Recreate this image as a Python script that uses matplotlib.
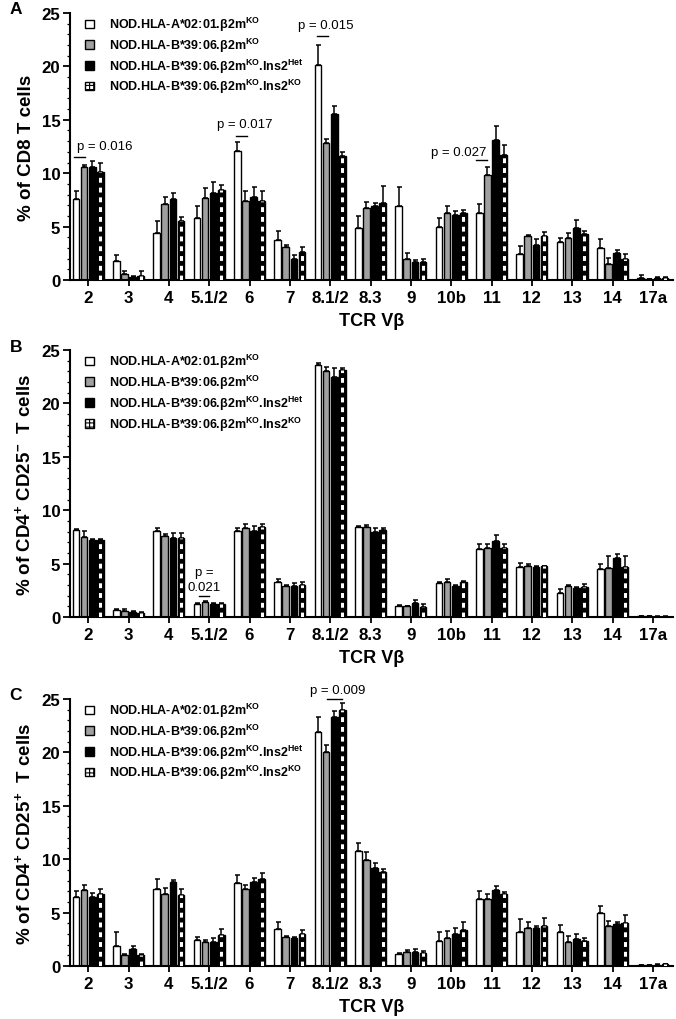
import matplotlib
matplotlib.use('Agg')
import matplotlib.pyplot as plt
import numpy as np
from matplotlib.patches import Patch

plt.rcParams['font.family'] = ['Liberation Sans', 'DejaVu Sans']
plt.rcParams['mathtext.fontset'] = 'custom'
plt.rcParams['mathtext.rm'] = 'Liberation Sans'
plt.rcParams['mathtext.bf'] = 'Liberation Sans:bold'
plt.rcParams['hatch.linewidth'] = 0.8

# Data
categories = ['2', '3', '4', '5.1/2', '6', '7', '8.1/2', '8.3', '9', '10b', '11', '12', '13', '14', '17a']
groups = [r'NOD.HLA-A*02:01.β2m$^{\mathbf{KO}}$',
          r'NOD.HLA-B*39:06.β2m$^{\mathbf{KO}}$',
          r'NOD.HLA-B*39:06.β2m$^{\mathbf{KO}}$.Ins2$^{\mathbf{Het}}$',
          r'NOD.HLA-B*39:06.β2m$^{\mathbf{KO}}$.Ins2$^{\mathbf{KO}}$']

# panel A: CD8
a_white = [7.6, 1.8, 4.4, 5.8, 12.1, 3.7, 20.1, 4.9, 6.9, 5.0, 6.3, 2.4, 3.6, 3.0, 0.2]
a_white_sem = [0.7, 0.5, 1.1, 1.1, 0.8, 0.9, 1.9, 1.1, 1.8, 0.8, 0.8, 0.8, 0.3, 0.8, 0.25]
a_gray = [10.6, 0.6, 7.1, 7.7, 7.4, 3.1, 12.8, 6.7, 2.0, 6.3, 9.8, 4.1, 3.9, 1.5, 0.05]
a_gray_sem = [0.2, 0.2, 0.7, 0.9, 0.9, 0.2, 0.4, 0.6, 0.5, 0.6, 0.8, 0.1, 0.5, 0.6, 0.05]
a_black = [10.6, 0.3, 7.6, 8.1, 7.8, 2.0, 15.5, 6.9, 1.7, 6.1, 13.1, 3.3, 4.9, 2.5, 0.2]
a_black_sem = [0.5, 0.05, 0.5, 1.1, 0.9, 0.3, 0.8, 0.3, 0.2, 0.4, 1.3, 0.5, 0.7, 0.3, 0.1]
a_check = [10.1, 0.4, 5.5, 8.4, 7.4, 2.6, 11.6, 7.2, 1.7, 6.3, 11.7, 4.1, 4.3, 2.0, 0.15]
a_check_sem = [0.9, 0.4, 0.4, 0.5, 0.9, 0.5, 0.4, 1.6, 0.3, 0.3, 0.9, 0.4, 0.3, 0.4, 0.1]

# panel B: CD4+ CD25-
b_white = [8.15, 0.65, 8.1, 1.2, 8.1, 3.3, 23.6, 8.45, 1.05, 3.15, 6.4, 4.7, 2.3, 4.55, 0.08]
b_white_sem = [0.1, 0.15, 0.2, 0.1, 0.2, 0.3, 0.2, 0.1, 0.05, 0.1, 0.4, 0.35, 0.35, 0.45, 0.02]
b_gray = [7.5, 0.6, 7.6, 1.4, 8.3, 2.9, 23.0, 8.45, 1.0, 3.3, 6.45, 4.8, 2.9, 4.6, 0.08]
b_gray_sem = [0.6, 0.2, 0.2, 0.1, 0.4, 0.1, 0.4, 0.15, 0.05, 0.3, 0.4, 0.15, 0.15, 1.1, 0.02]
b_black = [7.25, 0.5, 7.45, 1.25, 8.1, 2.9, 22.45, 8.0, 1.3, 2.95, 7.1, 4.7, 2.75, 5.5, 0.05]
b_black_sem = [0.05, 0.1, 0.45, 0.05, 0.4, 0.3, 0.85, 0.35, 0.3, 0.05, 0.55, 0.05, 0.05, 0.4, 0.02]
b_check = [7.2, 0.4, 7.45, 1.2, 8.45, 3.0, 23.15, 8.15, 0.95, 3.3, 6.45, 4.75, 2.8, 4.7, 0.05]
b_check_sem = [0.1, 0.1, 0.45, 0.1, 0.25, 0.3, 0.15, 0.15, 0.25, 0.1, 0.4, 0.05, 0.3, 1.05, 0.02]

# panel C: CD4+ CD25+
c_white = [6.5, 1.9, 7.2, 2.45, 7.75, 3.45, 21.95, 10.75, 1.1, 2.35, 6.25, 3.15, 3.15, 4.95, 0.08]
c_white_sem = [0.5, 1.25, 0.9, 0.25, 0.8, 0.65, 1.35, 0.75, 0.1, 0.85, 0.75, 1.25, 0.7, 0.7, 0.02]
c_gray = [7.15, 1.0, 6.75, 2.2, 7.2, 2.7, 20.05, 9.95, 1.3, 2.6, 6.25, 3.55, 2.2, 3.7, 0.08]
c_gray_sem = [0.45, 0.1, 0.55, 0.2, 0.4, 0.1, 0.65, 0.75, 0.2, 0.65, 0.5, 0.6, 0.6, 0.5, 0.02]
c_black = [6.45, 1.6, 7.85, 2.2, 7.9, 2.65, 23.3, 9.2, 1.35, 2.95, 7.1, 3.6, 2.5, 3.95, 0.12]
c_black_sem = [0.4, 0.3, 0.2, 0.4, 0.35, 0.1, 0.55, 0.4, 0.25, 0.65, 0.4, 0.15, 0.45, 0.2, 0.03]
c_check = [6.7, 1.0, 6.6, 2.9, 8.1, 2.95, 23.95, 8.8, 1.2, 3.4, 6.7, 3.7, 2.3, 4.0, 0.18]
c_check_sem = [0.55, 0.1, 0.6, 0.6, 0.6, 0.4, 0.65, 0.3, 0.2, 0.7, 0.2, 0.75, 0.35, 0.8, 0.03]

panels = [
    ('A', '% of CD8 T cells',
     [a_white, a_gray, a_black, a_check], [a_white_sem, a_gray_sem, a_black_sem, a_check_sem]),
    ('B', r'% of CD4$^{\mathbf{+}}$ CD25$^{\mathbf{-}}$  T cells',
     [b_white, b_gray, b_black, b_check], [b_white_sem, b_gray_sem, b_black_sem, b_check_sem]),
    ('C', r'% of CD4$^{\mathbf{+}}$ CD25$^{\mathbf{+}}$  T cells',
     [c_white, c_gray, c_black, c_check], [c_white_sem, c_gray_sem, c_black_sem, c_check_sem]),
]

# p-value annotations: (panel, category index, line from offset, line to offset, line y, text, text x offset, text y, ha)
pvals = [
    (0, 0, -0.34, -0.08, 11.5, 'p = 0.016', -0.27, 12.0, 'left'),
    (0, 4, -0.34, -0.06, 13.5, 'p = 0.017', -0.8, 14.0, 'left'),
    (0, 6, -0.32, -0.06, 22.8, 'p = 0.015', -0.8, 23.3, 'left'),
    (0, 10, -0.38, -0.12, 11.2, 'p = 0.027', -0.12, 11.4, 'right'),
    (1, 3, -0.25, 0.0, 2.0, 'p =\n0.021', -0.12, 2.3, 'center'),
    (2, 6, -0.08, 0.3, 25.0, 'p = 0.009', -0.5, 25.3, 'left'),
]

x = np.arange(len(categories))
offsets = [-0.3, -0.1, 0.1, 0.3]
width = 0.165
faces = ['white', '#a0a0a0', 'black', 'black']

fig = plt.figure(figsize=(6.76, 10.2), dpi=100)
bottoms = [0.7245, 0.394, 0.052]
axes = []
for k, (letter, ylab, means, sems) in enumerate(panels):
    ax = fig.add_axes([0.1036, bottoms[k], 0.892, 0.2618])
    axes.append(ax)
    for g in range(4):
        xs = x + offsets[g]
        ax.bar(xs, means[g], width, color=faces[g], edgecolor='black', linewidth=1.0, zorder=2)
        if g == 3:
            ax.vlines(xs, 0, means[g], colors='white', linewidth=2.2,
                      linestyles=(0, (1.6, 1.6)), zorder=3)
        ax.errorbar(xs, means[g], yerr=[np.zeros(len(x)), sems[g]], fmt='none',
                    ecolor='black', elinewidth=1.1, capsize=1.8, capthick=1.1, zorder=1)
    ax.set_xlim(-0.45, 14.5)
    ax.set_ylim(0, 25)
    ax.set_yticks([0, 5, 10, 15, 20, 25])
    ax.set_yticks(np.arange(0, 26, 1), minor=True)
    ax.set_xticks(x)
    ax.set_xticklabels(categories, fontsize=12.2, fontweight='bold')
    for lab in ax.get_yticklabels():
        lab.set_fontsize(12.2)
        lab.set_fontweight('bold')
    ax.tick_params(axis='y', which='major', length=5, width=1.3, pad=2)
    ax.tick_params(axis='y', which='minor', length=2.5, width=0.9)
    ax.tick_params(axis='x', which='major', length=4, width=1.3, pad=3)
    for s in ['top', 'right']:
        ax.spines[s].set_visible(False)
    for s in ['left', 'bottom']:
        ax.spines[s].set_linewidth(1.5)
    ax.set_ylabel(ylab, fontsize=13.5, fontweight='bold', labelpad=5)
    ax.set_xlabel('TCR Vβ', fontsize=13, fontweight='bold', labelpad=5)
    ax.text(-0.1, 1.015, letter, transform=ax.transAxes, fontsize=12.5, fontweight='bold',
            va='center', ha='left')

    handles = [Patch(facecolor='white', edgecolor='black', linewidth=1.0),
               Patch(facecolor='#a0a0a0', edgecolor='black', linewidth=1.0),
               Patch(facecolor='black', edgecolor='black', linewidth=1.0),
               Patch(facecolor='white', edgecolor='black', linewidth=1.0, hatch='++++')]
    leg = ax.legend(handles, groups, loc='upper left', bbox_to_anchor=(0.012, 1.02),
                    frameon=False, prop={'weight': 'bold', 'size': 9},
                    handlelength=0.7, handleheight=0.7, handletextpad=1.2,
                    labelspacing=0.2, borderaxespad=0.2)

for (k, ci, x0, x1, ly, txt, tx, ty, ha) in pvals:
    ax = axes[k]
    ax.plot([ci + x0, ci + x1], [ly, ly], color='black', linewidth=1.0, clip_on=False)
    ax.text(ci + tx, ty, txt, fontsize=9.5, ha=ha, va='bottom', clip_on=False, linespacing=1.3)

fig.savefig('out.png', dpi=100)
